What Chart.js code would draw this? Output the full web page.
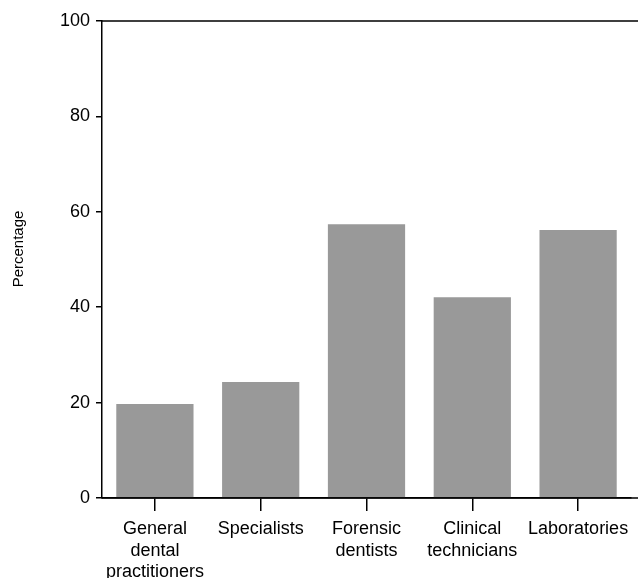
<!DOCTYPE html>
<html>
<head>
<meta charset="utf-8">
<script src="https://cdn.jsdelivr.net/npm/chart.js@4/dist/chart.umd.min.js"></script>
<style>
  html, body { margin: 0; padding: 0; background: #fff; }
  #wrap { width: 638px; height: 578px; }
</style>
</head>
<body>
<div id="wrap"><canvas id="grafica" width="638" height="578"></canvas></div>
<script>
// ================= DATOS =================
const categorias = [
    ['General', 'dental', 'practitioners'],
    'Specialists',
    ['Forensic', 'dentists'],
    ['Clinical', 'technicians'],
    'Laboratories'
];
const porcentajes = [19.7, 24.3, 57.4, 42.1, 56.2];
const ticksY = [0, 20, 40, 60, 80, 100];
const tituloY = 'Percentage';

const fuente = "'Liberation Sans', Arial, Helvetica, sans-serif";

// lineas superior e inferior hasta el borde, y titulo del eje Y
const marcoPlugin = {
    id: 'marco',
    afterDraw(chart) {
        const { ctx, chartArea } = chart;
        ctx.save();
        ctx.strokeStyle = '#000';
        ctx.lineWidth = 1.5;
        ctx.beginPath();
        ctx.moveTo(chartArea.left, chartArea.top);
        ctx.lineTo(chart.width, chartArea.top);
        ctx.moveTo(chartArea.left, chartArea.bottom);
        ctx.lineTo(chart.width, chartArea.bottom);
        ctx.stroke();

        ctx.translate(18.5, 249);
        ctx.rotate(-Math.PI / 2);
        ctx.fillStyle = '#000';
        ctx.font = '15px ' + fuente;
        ctx.textAlign = 'center';
        ctx.textBaseline = 'middle';
        ctx.fillText(tituloY, 0, 0);
        ctx.restore();
    }
};

new Chart(document.getElementById('grafica'), {
    type: 'bar',
    data: {
        labels: categorias,
        datasets: [{
            data: porcentajes,
            backgroundColor: '#999999',
            barPercentage: 0.73,
            categoryPercentage: 1
        }]
    },
    options: {
        responsive: false,
        animation: false,
        layout: { padding: { top: 21, right: 7, left: 0, bottom: 0 } },
        plugins: { legend: { display: false }, tooltip: { enabled: false } },
        scales: {
            x: {
                grid: { drawOnChartArea: false, offset: false, tickLength: 13, color: '#000', lineWidth: 1.5 },
                border: { color: '#000', width: 1.5 },
                ticks: {
                    color: '#000',
                    padding: 8,
                    maxRotation: 0,
                    autoSkip: false,
                    font: { family: fuente, size: 18, lineHeight: 1.17 }
                },
                afterFit(scale) { scale.height = 80; }
            },
            y: {
                min: 0,
                max: 100,
                afterBuildTicks(scale) { scale.ticks = ticksY.map(v => ({ value: v })); },
                grid: { drawOnChartArea: false, tickLength: 6, color: '#000', lineWidth: 1.5 },
                border: { color: '#000', width: 1.5 },
                ticks: {
                    color: '#000',
                    padding: 6,
                    font: { family: fuente, size: 18 }
                },
                afterFit(scale) { scale.width = 102; }
            }
        }
    },
    plugins: [marcoPlugin]
});
</script>
</body>
</html>
